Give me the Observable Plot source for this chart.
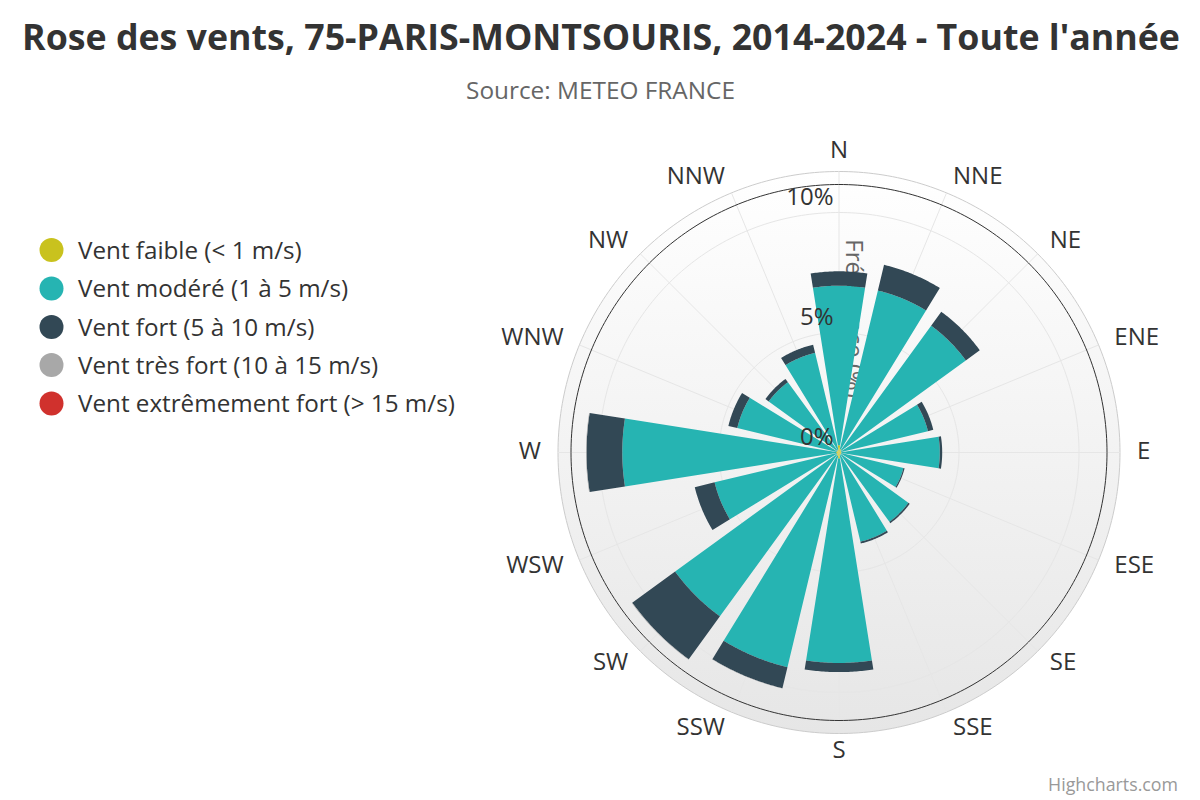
<!DOCTYPE html>
<html>
<head>
<meta charset="utf-8">
<script src="https://cdn.jsdelivr.net/npm/d3@7"></script>
<script src="https://cdn.jsdelivr.net/npm/@observablehq/plot@0.6"></script>
<style>
  body { margin: 0; background: #ffffff; }
  #wrap { position: relative; width: 1200px; height: 800px; overflow: hidden; font-family: "Open Sans", sans-serif; }
  #wrap > svg { position: absolute; left: 0; top: 0; }
</style>
</head>
<body>
<div id="wrap"></div>
<script>
// ---------- DATA ----------
const directions = ["N","NNE","NE","ENE","E","ESE","SE","SSE","S","SSW","SW","WSW","W","WNW","NW","NNW"];
const seriesNames = ["Vent faible (< 1 m/s)", "Vent modéré (1 à 5 m/s)", "Vent fort (5 à 10 m/s)", "Vent très fort (10 à 15 m/s)", "Vent extrêmement fort (> 15 m/s)"];
const seriesColors = ["#c9c21e", "#26b4b2", "#324855", "#a8a8a8", "#d0312d"];
const faible    = [0.30, 0.15, 0.12, 0.10, 0.10, 0.10, 0.10, 0.12, 0.25, 0.15, 0.12, 0.10, 0.12, 0.10, 0.10, 0.12];
const modere    = [6.65, 6.79, 6.41, 3.71, 4.10, 2.66, 3.47, 3.70, 8.52, 9.05, 8.32, 5.23, 8.91, 4.26, 3.52, 4.15];
const fort      = [0.60, 1.10, 0.72, 0.23, 0.10, 0.05, 0.07, 0.08, 0.38, 0.90, 2.21, 0.85, 1.49, 0.38, 0.17, 0.35];
const tresFort  = [0, 0, 0, 0, 0, 0, 0, 0, 0, 0.01, 0.02, 0, 0.02, 0, 0, 0];
const extreme   = [0, 0, 0, 0, 0, 0, 0, 0, 0, 0, 0, 0, 0, 0, 0, 0];
const yTicks = [0, 5, 10];
const titleText = "Rose des vents, 75-PARIS-MONTSOURIS, 2014-2024 - Toute l'année";
const subtitleText = "Source: METEO FRANCE";
const yAxisTitle = "Fréquence (%)";
const creditText = "Highcharts.com";

// ---------- GEOMETRY (layout) ----------
const W = 1200, H = 800;
const cx = 838.5, cy = 452, pxPerPct = 24;
const axisMax = 268 / pxPerPct;      // outer dark circle
const paneMax = 281 / pxPerPct;      // pane background radius
const halfSpan = 9;                  // degrees, half width of each column
const labelR = 298 / pxPerPct;
const rad = d => d * Math.PI / 180;
const px = (r, a) => r * Math.sin(rad(a));
const py = (r, a) => r * Math.cos(rad(a));

function circlePts(r) {
  return d3.range(0, 360, 1).map(a => ({x: px(r, a), y: py(r, a)}));
}

const allSeries = [faible, modere, fort, tresFort, extreme];
const wedgeSets = seriesNames.map(() => []);
directions.forEach((dir, i) => {
  const theta = i * 22.5;
  let r0 = 0;
  allSeries.forEach((vals, s) => {
    const v = vals[i];
    const r1 = r0 + v;
    if (v > 0) {
      const id = dir + "-" + s;
      const angles = d3.range(theta - halfSpan, theta + halfSpan + 0.001, 0.5);
      angles.forEach(a => wedgeSets[s].push({id, x: px(r1, a), y: py(r1, a)}));
      if (r0 > 0) {
        angles.slice().reverse().forEach(a => wedgeSets[s].push({id, x: px(r0, a), y: py(r0, a)}));
      } else {
        wedgeSets[s].push({id, x: 0, y: 0});
      }
    }
    r0 = r1;
  });
});

const dirLabels = directions.map((name, i) => {
  const a = i * 22.5;
  const anchor = (a === 0 || a === 180) ? "middle" : (a < 180 ? "start" : "end");
  const rr = anchor === "middle" ? 300 / pxPerPct : labelR;
  return {name, x: px(rr, a), y: py(rr, a), anchor, a};
});

const radials = directions.map((d, i) => ({x2: px(paneMax, i * 22.5), y2: py(paneMax, i * 22.5)}));

const font = '"Open Sans", sans-serif';

const chart = Plot.plot({
  width: W, height: H, margin: 0,
  x: {domain: [-cx / pxPerPct, (W - cx) / pxPerPct], range: [0, W], axis: null},
  y: {domain: [(cy - H) / pxPerPct, cy / pxPerPct], range: [H, 0], axis: null},
  style: {fontFamily: font, fontSize: "24px", background: "transparent", overflow: "visible"},
  marks: [
    Plot.line(circlePts(paneMax), {x: "x", y: "y", fill: "url(#paneGrad)", stroke: "#cccccc", strokeWidth: 1, curve: "linear-closed"}),
    ...yTicks.filter(t => t > 0).map(t => Plot.line(circlePts(t), {x: "x", y: "y", stroke: "#e6e6e6", strokeWidth: 1, curve: "linear-closed"})),
    Plot.link(radials, {x1: () => 0, y1: () => 0, x2: "x2", y2: "y2", stroke: "#e6e6e6", strokeWidth: 1}),
    Plot.text([yAxisTitle], {x: () => 0, y: () => axisMax / 2, text: d => d, rotate: 90, dx: 14.5, fill: "#666666", fontSize: 24}),
    ...wedgeSets.map((pts, s) => Plot.line(pts, {x: "x", y: "y", z: "id", fill: seriesColors[s], stroke: "none", curve: "linear-closed"})),
    Plot.line(circlePts(axisMax), {x: "x", y: "y", stroke: "#333333", strokeWidth: 1, curve: "linear-closed"}),
    Plot.text(yTicks, {x: () => 0, y: d => d, text: d => d + "%", textAnchor: "end", dx: -5.5, dy: -15, fill: "#333333", fontSize: 24}),
    ...["start", "end", "middle"].map(anchor =>
      Plot.text(dirLabels.filter(d => d.anchor === anchor), {x: "x", y: "y", text: "name", textAnchor: anchor, dy: anchor === "middle" ? -2 : -1, fill: "#333333", fontSize: 24})
    )
  ]
});

const wrap = document.getElementById("wrap");
wrap.appendChild(chart);

// gradient for pane background
const ns = "http://www.w3.org/2000/svg";
const defs = document.createElementNS(ns, "defs");
defs.innerHTML = '<linearGradient id="paneGrad" x1="0" y1="0" x2="0" y2="1"><stop offset="0" stop-color="#ffffff"/><stop offset="1" stop-color="#e6e6e6"/></linearGradient>';
chart.insertBefore(defs, chart.firstChild);

// ---------- overlay: title, subtitle, legend, credit ----------
const ov = d3.select(wrap).append("svg").attr("width", W).attr("height", H).style("pointer-events", "none")
  .style("font-family", font);

function fit(sel, target) {
  const w = sel.node().getComputedTextLength();
  const fs = parseFloat(sel.attr("font-size"));
  sel.attr("font-size", fs * target / w);
}

const title = ov.append("text").attr("x", 601).attr("y", 50).attr("text-anchor", "middle")
  .attr("font-size", 34).attr("font-weight", 700).attr("fill", "#333333").text(titleText);
fit(title, 1158);

const sub = ov.append("text").attr("x", 600.5).attr("y", 99).attr("text-anchor", "middle")
  .attr("font-size", 22).attr("fill", "#666666").text(subtitleText);
fit(sub, 269);

const legendY = [250, 288.5, 327, 365, 403.5];
const lg = ov.append("g");
const items = lg.selectAll("g").data(seriesNames).join("g");
items.append("circle").attr("cx", 51.5).attr("cy", (d, i) => legendY[i]).attr("r", 12).attr("fill", (d, i) => seriesColors[i]);
const lt = items.append("text").attr("x", 78).attr("y", (d, i) => legendY[i] + 8.5).attr("font-size", 22).attr("fill", "#333333").text(d => d);
{
  const longest = lt.nodes()[4];
  const w = longest.getComputedTextLength();
  const fs = 22 * 377 / w;
  lt.attr("font-size", fs);
}

const credit = ov.append("text").attr("x", 1178).attr("y", 791).attr("text-anchor", "end")
  .attr("font-size", 16).attr("fill", "#999999").text(creditText);
fit(credit, 130);
</script>
</body>
</html>
